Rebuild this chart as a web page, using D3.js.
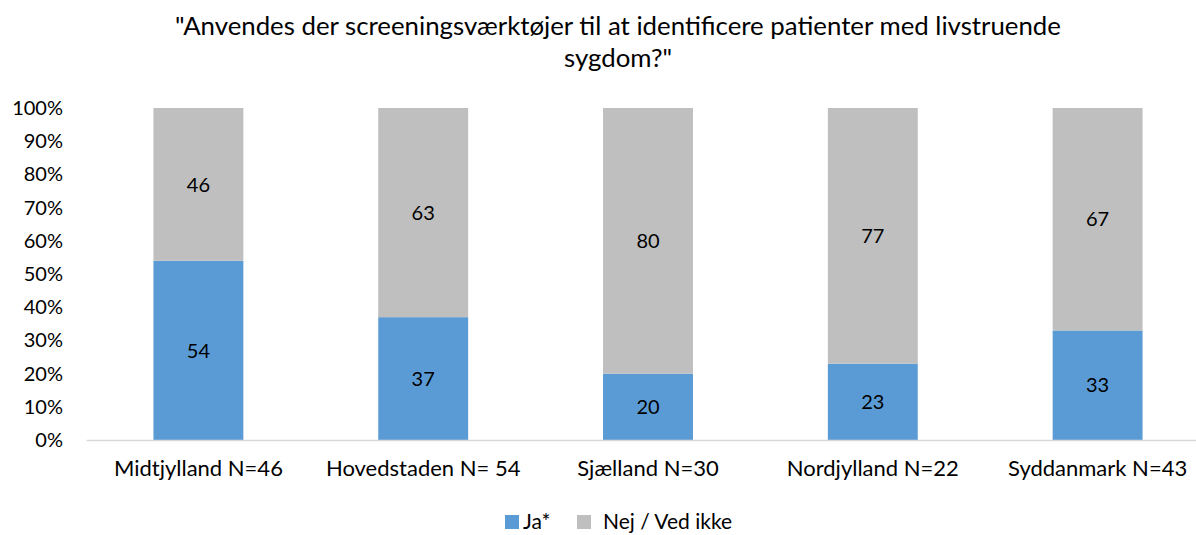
<!DOCTYPE html>
<html>
<head>
<meta charset="utf-8">
<script src="https://cdn.jsdelivr.net/npm/d3@7"></script>
<style>
  body { margin: 0; background: #fff; }
  svg text { font-family: Lato, "Open Sans", sans-serif; fill: #000; }
</style>
</head>
<body>
<svg id="chart" width="1196" height="535"></svg>
<script>
// Regions and their share of answers (percent)
const categories = ["Midtjylland N=46", "Hovedstaden N= 54", "Sjælland N=30", "Nordjylland N=22", "Syddanmark N=43"];
const jaValues = [54, 37, 20, 23, 33];
const nejValues = [46, 63, 80, 77, 67];
const seriesNames = ["Ja*", "Nej / Ved ikke"];
const seriesColors = ["#5B9BD5", "#BFBFBF"];
const yTicks = [0, 10, 20, 30, 40, 50, 60, 70, 80, 90, 100];
const titleLines = ["\"Anvendes der screeningsværktøjer til at identificere patienter med livstruende", "sygdom?\""];

const FONT = "Lato, 'Open Sans', sans-serif";
const svg = d3.select("#chart");
const plot = { left: 86, right: 1210, top: 108, bottom: 440 };

const x = d3.scaleBand().domain(categories).range([plot.left, plot.right]).paddingInner(0.6).paddingOuter(0.3);
const y = d3.scaleLinear().domain([0, 100]).range([plot.bottom, plot.top]);

// Title
svg.append("g").selectAll("text").data(titleLines).join("text")
  .attr("x", 618).attr("y", (d, i) => 35 + i * 32)
  .attr("text-anchor", "middle").style("font-size", "25.8px").text(d => d);

// Stacked data
const rows = categories.map((c, i) => ({ cat: c, ja: jaValues[i], nej: nejValues[i] }));
const layers = d3.stack().keys(["ja", "nej"])(rows);

const gBars = svg.append("g");
layers.forEach((layer, li) => {
  gBars.append("g").selectAll("rect").data(layer).join("rect")
    .attr("x", d => x(d.data.cat))
    .attr("width", x.bandwidth())
    .attr("y", d => y(d[1]))
    .attr("height", d => y(d[0]) - y(d[1]))
    .attr("fill", seriesColors[li]);
  gBars.append("g").selectAll("text").data(layer).join("text")
    .attr("x", d => x(d.data.cat) + x.bandwidth() / 2)
    .attr("y", d => (y(d[0]) + y(d[1])) / 2)
    .attr("dy", "0.36em")
    .attr("text-anchor", "middle").style("font-size", "20px")
    .text(d => d[1] - d[0]);
});

// Y axis (labels only)
const yAxis = d3.axisLeft(y).tickValues(yTicks).tickFormat(d => d + "%").tickSize(0).tickPadding(0);
const gy = svg.append("g").attr("transform", "translate(63,0)").call(yAxis);
gy.select(".domain").remove();
gy.selectAll("text").style("font-size", "20px").style("font-family", FONT).attr("fill", "#000");

// X axis
const xAxis = d3.axisBottom(x).tickSize(0).tickPadding(0);
const gx = svg.append("g").attr("transform", `translate(0,${plot.bottom})`).call(xAxis);
gx.select(".domain").attr("stroke", "#D9D9D9").attr("stroke-width", 1.3);
gx.selectAll("text").attr("y", 36).attr("dy", null)
  .style("font-size", "22px").style("font-family", FONT).attr("fill", "#000");

// Legend
const legend = svg.append("g");
const legendItems = [
  { x: 505, tx: 523, name: seriesNames[0], color: seriesColors[0] },
  { x: 577, tx: 603, name: seriesNames[1], color: seriesColors[1] }
];
legendItems.forEach(it => {
  legend.append("rect").attr("x", it.x).attr("y", 515).attr("width", 14).attr("height", 14).attr("fill", it.color);
  legend.append("text").attr("x", it.tx).attr("y", 529).style("font-size", "21px").text(it.name);
});
</script>
</body>
</html>
